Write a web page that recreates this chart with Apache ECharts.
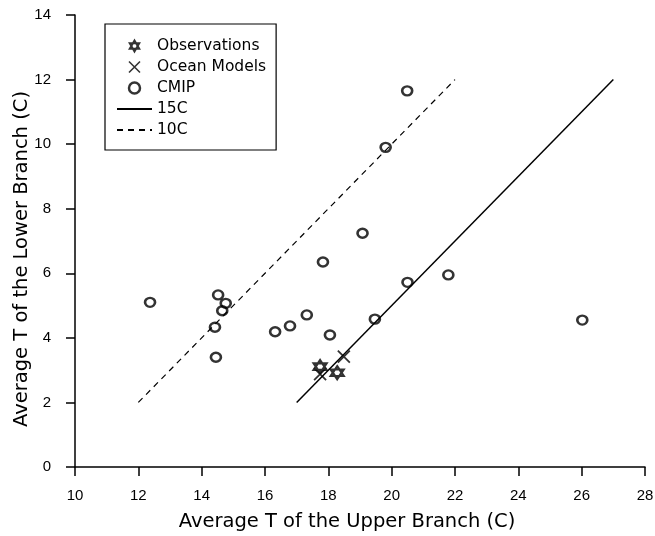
<!DOCTYPE html>
<html>
<head>
<meta charset="utf-8">
<script src="https://cdn.jsdelivr.net/npm/echarts@6/dist/echarts.min.js"></script>
<style>
html,body{margin:0;padding:0;background:#fff;}
#chart{width:655px;height:536px;}
</style>
</head>
<body>
<div id="chart"></div>
<script>
const obsX = [17.74, 18.28];
const obsY = [3.11, 2.92];
const oceanX = [17.74, 18.49];
const oceanY = [2.88, 3.42];
const cmipX = [12.37, 14.52, 14.76, 14.65, 14.42, 14.45, 16.32, 16.79, 17.32, 18.05, 19.47, 20.49, 19.81, 19.08, 17.83, 20.50, 21.79, 26.02];
const cmipY = [5.10, 5.33, 5.07, 4.84, 4.33, 3.40, 4.19, 4.37, 4.71, 4.09, 4.58, 11.65, 9.90, 7.24, 6.35, 5.72, 5.95, 4.55];
const line15X = [17, 27];
const line15Y = [2, 12];
const line10X = [12, 22];
const line10Y = [2, 12];

const zip = (a, b) => a.map((v, i) => [v, b[i]]);
const tickFont = 'Liberation Sans';
const titleFont = 'DejaVu Sans';
const star = 'path://M0,-10L8.66,5L-8.66,5Z M0,10L8.66,-5L-8.66,-5Z';
const cross = 'path://M-5,-5L5,5M5,-5L-5,5';

const chart = echarts.init(document.getElementById('chart'));
chart.setOption({
  animation: false,
  backgroundColor: '#fff',
  grid: {left: 75, right: 10, top: 15, bottom: 69, containLabel: false, outerBoundsMode: 'none'},
  legend: {
    orient: 'vertical', left: 105, top: 24,
    padding: [14, 10, 12, 11],
    borderColor: '#000', borderWidth: 1.2,
    itemGap: 5, itemWidth: 35, itemHeight: 11,
    textStyle: {fontFamily: titleFont, fontSize: 15.5, color: '#000'},
    data: [
      {name: 'Observations', icon: star, itemStyle: {borderWidth: 2}},
      {name: 'Ocean Models', icon: cross, itemStyle: {borderWidth: 1.6}},
      {name: 'CMIP', icon: 'circle', itemStyle: {borderWidth: 2.5}},
      {name: '15C', itemStyle: {opacity: 0}},
      {name: '10C', itemStyle: {opacity: 0}}
    ]
  },
  xAxis: {
    type: 'value', min: 10, max: 28, interval: 2,
    name: 'Average T of the Upper Branch (C)',
    nameLocation: 'middle', nameGap: 45, nameMoveOverlap: false,
    nameTextStyle: {fontFamily: titleFont, fontSize: 19.5, color: '#000', padding: [0, 26, 0, 0]},
    axisLine: {show: true, lineStyle: {color: '#000', width: 1.5}},
    axisTick: {show: true, length: 9, lineStyle: {color: '#000', width: 1.5}},
    axisLabel: {margin: 21, fontFamily: tickFont, fontSize: 15, color: '#000'},
    splitLine: {show: false}
  },
  yAxis: {
    type: 'value', min: 0, max: 14, interval: 2,
    name: 'Average T of the Lower Branch (C)',
    nameLocation: 'middle', nameGap: 43, nameRotate: 90, nameMoveOverlap: false,
    nameTextStyle: {fontFamily: titleFont, fontSize: 19.5, color: '#000', padding: [0, 36, 0, 0]},
    axisLine: {show: true, lineStyle: {color: '#000', width: 1.5}},
    axisTick: {show: true, length: 9, lineStyle: {color: '#000', width: 1.5}},
    axisLabel: {margin: 24, fontFamily: tickFont, fontSize: 15, color: '#000'},
    splitLine: {show: false}
  },
  series: [
    {
      name: '15C', type: 'line', data: zip(line15X, line15Y),
      symbol: 'none', lineStyle: {color: '#000', width: 1.5}, itemStyle: {color: '#000'}
    },
    {
      name: '10C', type: 'line', data: zip(line10X, line10Y),
      symbol: 'none', lineStyle: {color: '#000', width: 1.2, type: [6, 5]}, itemStyle: {color: '#000'}
    },
    {
      name: 'CMIP', type: 'scatter', data: zip(cmipX, cmipY),
      symbol: 'circle', symbolSize: [10, 9],
      itemStyle: {color: 'rgba(255,255,255,0)', borderColor: '#000', borderWidth: 2.5}
    },
    {
      name: 'Ocean Models', type: 'scatter', data: zip(oceanX, oceanY),
      symbol: cross, symbolSize: 12,
      itemStyle: {color: 'rgba(255,255,255,0)', borderColor: '#000', borderWidth: 1.8}
    },
    {
      name: 'Observations', type: 'scatter', data: zip(obsX, obsY),
      symbol: star, symbolSize: 13,
      itemStyle: {color: '#fff', borderColor: '#000', borderWidth: 2.2}
    }
  ]
});
</script>
</body>
</html>
